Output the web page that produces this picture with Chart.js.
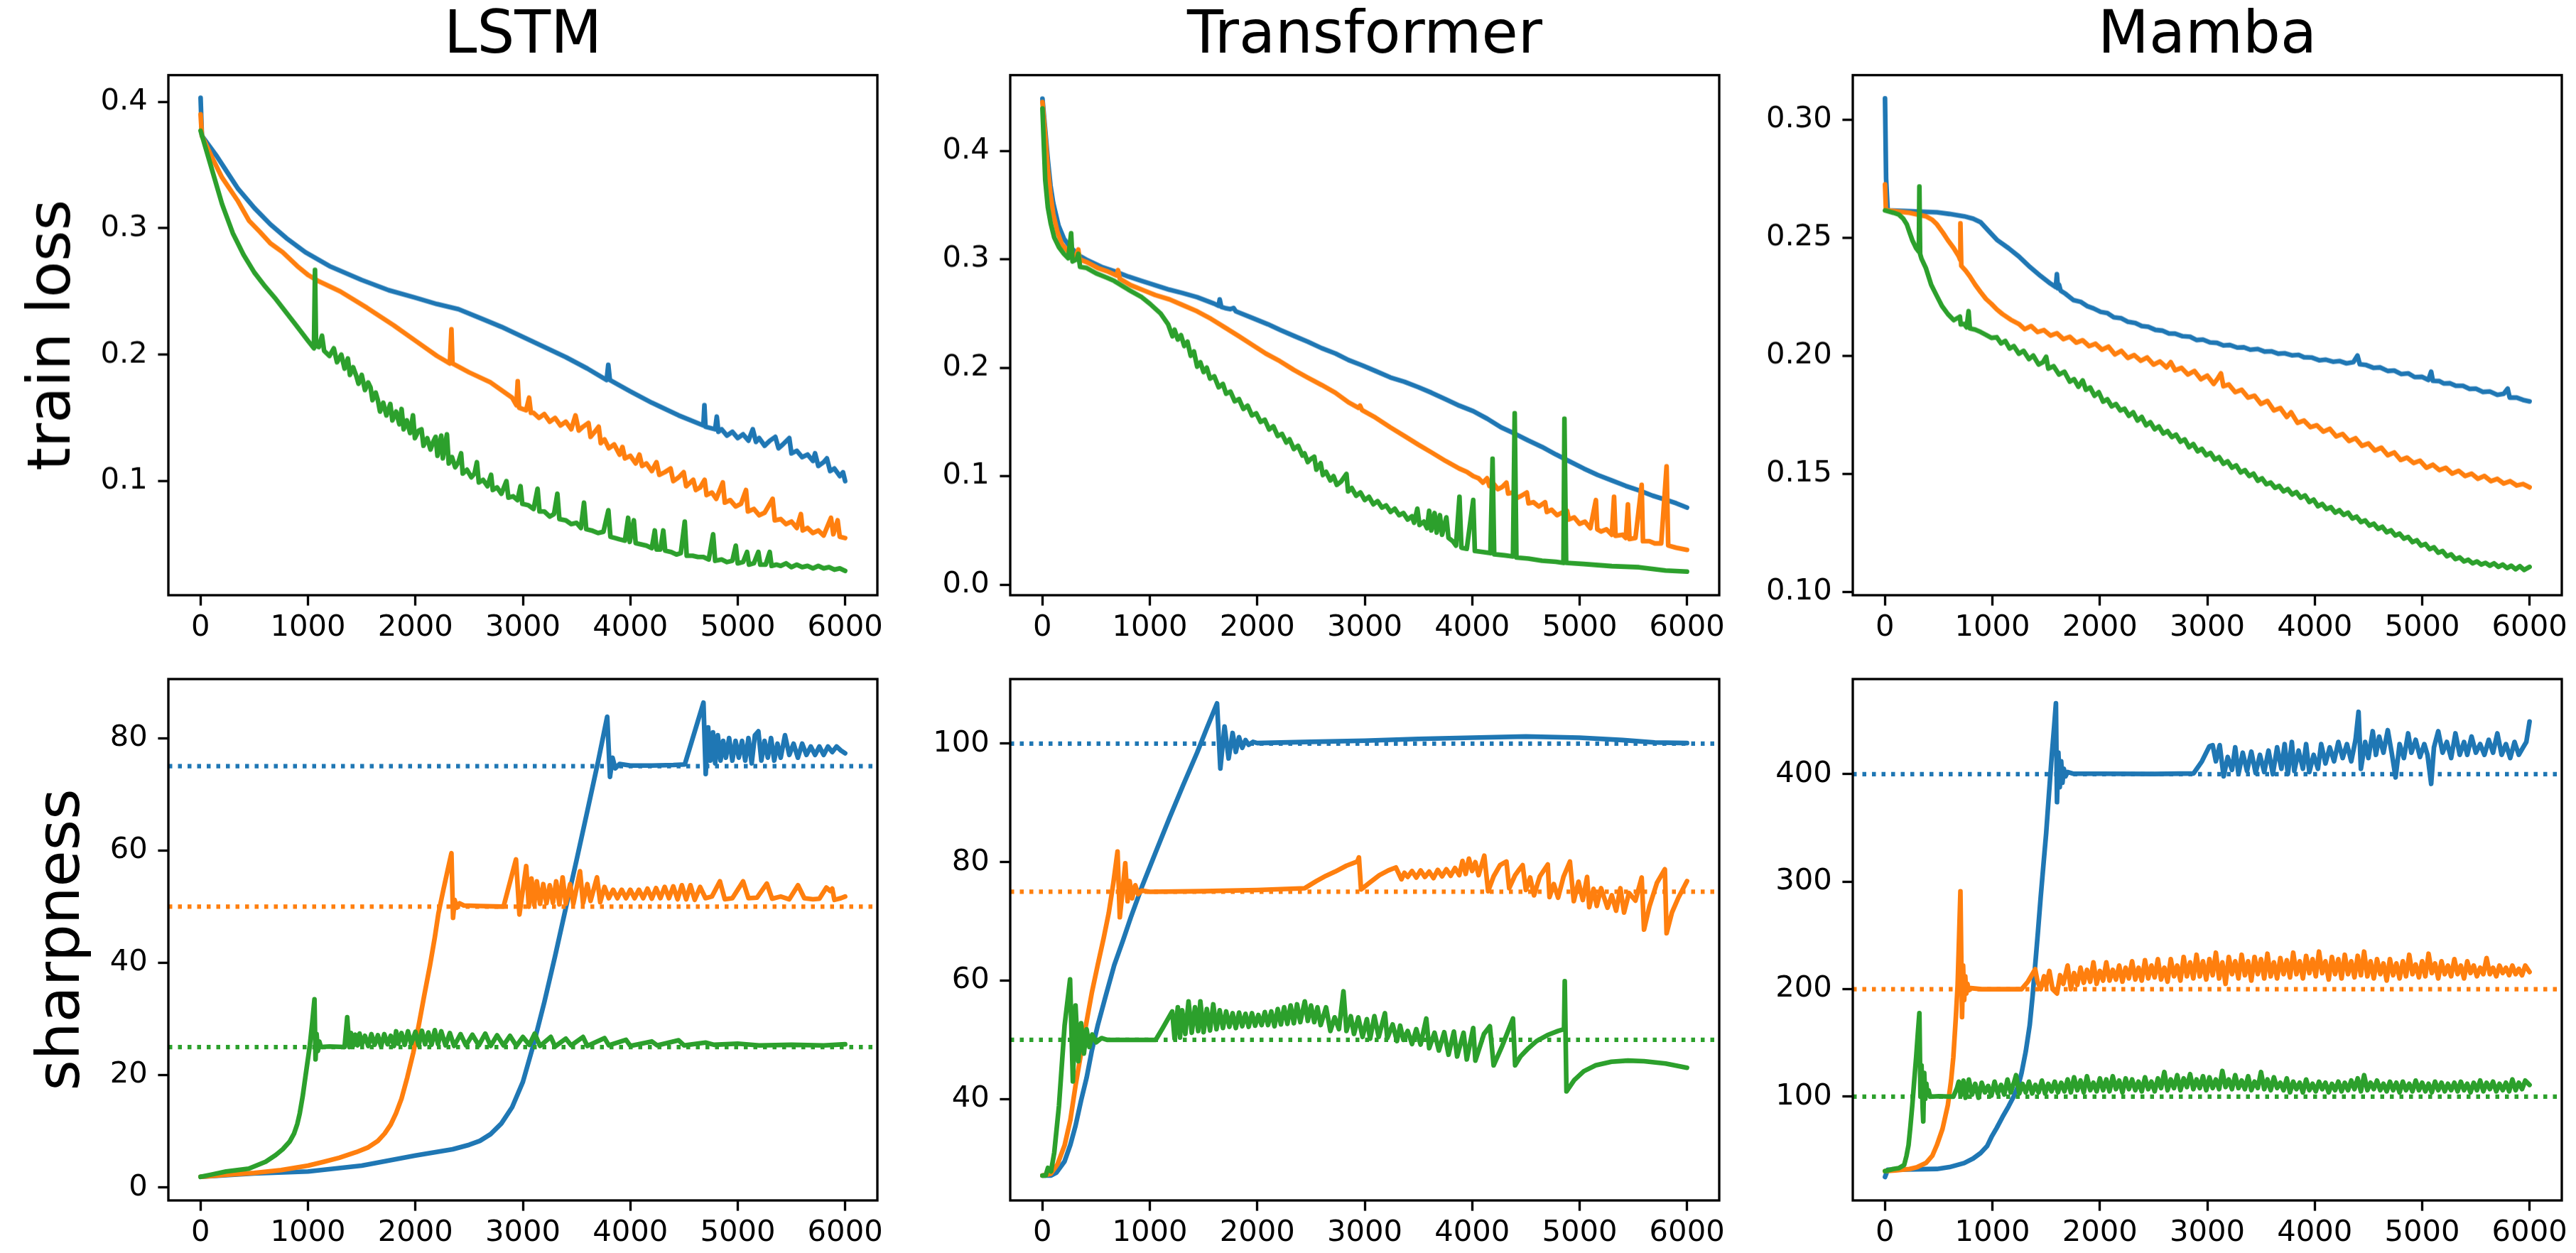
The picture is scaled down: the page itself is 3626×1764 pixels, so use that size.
<!DOCTYPE html>
<html>
<head>
<meta charset="utf-8">
<script src="https://cdn.jsdelivr.net/npm/chart.js@4.4.0/dist/chart.umd.min.js"></script>
<style>
  html, body { margin: 0; padding: 0; background: #fff; overflow: hidden; }
  #fig { position: relative; width: 3626px; height: 1764px; background: #fff; }
  #fig canvas { position: absolute; }
</style>
</head>
<body>
<div id="fig"></div>
<script>
// ---- data: [step, value] ----
const titles = ["LSTM", "Transformer", "Mamba"];
const rowLabels = ["train loss", "sharpness"];
const xTicks = [0, 1000, 2000, 3000, 4000, 5000, 6000];

const lstmLossBlue = [[0,.403],[12,.373],[150,.357],[250,.344],[350,.331],[500,.316],[650,.303],[800,.292],[975,.281],[1200,.270],[1500,.259],[1750,.251],[2000,.245],[2200,.240],[2400,.236],[2600,.229],[2800,.222],[3000,.214],[3200,.206],[3400,.198],[3600,.189],[3780,.180],[3795,.192],[3810,.180],[4000,.171],[4200,.162],[4450,.152],[4680,.144],[4690,.160],[4700,.143],[4790,.141],[4805,.151],[4820,.139],[4850,.141],[4900,.136],[4950,.139],[5000,.134],[5050,.137],[5100,.132],[5140,.141],[5170,.131],[5200,.134],[5250,.128],[5300,.132],[5350,.135],[5380,.126],[5420,.129],[5480,.134],[5500,.122],[5550,.124],[5600,.119],[5650,.121],[5700,.116],[5720,.122],[5750,.112],[5800,.115],[5830,.118],[5860,.108],[5900,.110],[5950,.104],[5980,.107],[6000,.100]];
const lstmLossOrange = [[0,.390],[12,.373],[100,.357],[200,.340],[343,.322],[450,.306],[553,.297],[650,.288],[764,.281],[900,.270],[1000,.263],[1100,.258],[1300,.250],[1550,.237],[1800,.223],[2000,.211],[2200,.199],[2320,.193],[2335,.220],[2345,.193],[2500,.186],[2700,.178],[2900,.166],[2940,.160],[2952,.179],[2965,.158],[3030,.156],[3058,.166],[3075,.154],[3100,.154],[3150,.150],[3200,.153],[3250,.147],[3300,.150],[3350,.144],[3400,.147],[3450,.141],[3490,.152],[3520,.140],[3560,.143],[3611,.146],[3630,.135],[3660,.138],[3706,.143],[3725,.130],[3760,.133],[3800,.126],[3850,.129],[3900,.121],[3927,.127],[3950,.118],[4000,.120],[4050,.114],[4085,.121],[4110,.112],[4150,.114],[4200,.108],[4244,.115],[4270,.105],[4320,.107],[4375,.110],[4400,.100],[4450,.103],[4497,.107],[4520,.096],[4586,.101],[4610,.093],[4650,.095],[4692,.101],[4710,.089],[4760,.091],[4800,.086],[4861,.099],[4880,.083],[4930,.085],[4980,.080],[5030,.082],[5077,.093],[5095,.076],[5150,.078],[5200,.073],[5250,.075],[5325,.086],[5345,.069],[5400,.070],[5450,.066],[5500,.068],[5550,.063],[5588,.074],[5605,.061],[5650,.063],[5700,.059],[5750,.061],[5800,.057],[5868,.071],[5890,.058],[5930,.069],[5950,.056],[6000,.055]];
const lstmLossGreen = [[0,.377],[100,.348],[200,.319],[300,.296],[400,.279],[500,.265],[600,.254],[700,.244],[800,.233],[900,.222],[1000,.211],[1055,.205],[1065,.267],[1075,.207],[1100,.206],[1130,.215],[1150,.203],[1200,.199],[1240,.205],[1270,.194],[1310,.200],[1340,.189],[1371,.197],[1390,.184],[1420,.190],[1450,.183],[1470,.177],[1500,.184],[1530,.172],[1560,.178],[1582,.174],[1600,.164],[1630,.170],[1650,.164],[1670,.155],[1700,.162],[1730,.152],[1766,.161],[1785,.148],[1820,.155],[1850,.145],[1871,.157],[1890,.141],[1920,.148],[1950,.138],[1977,.152],[1995,.134],[2030,.140],[2056,.141],[2075,.128],[2110,.134],[2140,.125],[2165,.131],[2188,.135],[2205,.120],[2240,.136],[2255,.118],[2293,.137],[2310,.114],[2340,.119],[2370,.111],[2400,.115],[2425,.122],[2440,.106],[2480,.109],[2520,.103],[2550,.106],[2572,.115],[2590,.099],[2630,.101],[2670,.096],[2704,.105],[2720,.093],[2760,.095],[2800,.090],[2847,.100],[2865,.087],[2910,.088],[2950,.085],[2978,.096],[2995,.082],[3050,.081],[3100,.078],[3137,.094],[3155,.076],[3200,.076],[3250,.072],[3290,.074],[3321,.090],[3340,.070],[3400,.069],[3450,.066],[3500,.067],[3540,.063],[3569,.083],[3590,.062],[3640,.061],[3700,.059],[3750,.060],[3796,.077],[3815,.056],[3860,.055],[3900,.054],[3950,.053],[3980,.071],[3995,.052],[4033,.069],[4050,.051],[4100,.050],[4150,.049],[4200,.047],[4228,.061],[4245,.046],[4280,.046],[4307,.061],[4325,.045],[4380,.044],[4430,.042],[4470,.043],[4507,.068],[4525,.041],[4580,.041],[4630,.040],[4680,.040],[4730,.038],[4771,.058],[4790,.037],[4850,.038],[4900,.036],[4950,.037],[4982,.049],[5000,.035],[5050,.036],[5087,.044],[5105,.034],[5150,.035],[5192,.044],[5210,.034],[5260,.034],[5298,.044],[5315,.033],[5360,.034],[5400,.033],[5450,.035],[5500,.032],[5550,.034],[5600,.032],[5650,.033],[5700,.031],[5750,.033],[5800,.031],[5850,.032],[5900,.030],[5950,.031],[6000,.029]];

const transLossBlue = [[0,.448],[25,.42],[50,.392],[75,.368],[100,.352],[150,.331],[200,.319],[260,.311],[350,.303],[420,.299],[550,.293],[670,.289],[800,.284],[925,.280],[1050,.276],[1180,.272],[1300,.269],[1440,.265],[1600,.259],[1640,.257],[1650,.263],[1665,.256],[1700,.255],[1750,.254],[1780,.255],[1800,.252],[1950,.246],[2100,.240],[2210,.235],[2350,.229],[2470,.224],[2600,.218],[2730,.213],[2850,.207],[2980,.202],[3100,.197],[3240,.191],[3370,.187],[3500,.182],[3620,.177],[3750,.171],[3880,.165],[4010,.160],[4140,.153],[4270,.145],[4400,.139],[4520,.133],[4650,.127],[4780,.120],[4900,.114],[5040,.107],[5170,.101],[5300,.096],[5430,.091],[5550,.087],[5680,.082],[5810,.078],[5900,.075],[6000,.071]];
const transLossOrange = [[0,.445],[25,.415],[50,.384],[75,.36],[100,.342],[140,.325],[180,.314],[250,.306],[308,.302],[334,.309],[345,.300],[420,.297],[514,.292],[600,.289],[690,.285],[704,.290],[720,.282],[823,.276],[950,.271],[1050,.267],[1183,.263],[1300,.258],[1440,.252],[1570,.245],[1700,.237],[1830,.229],[1954,.221],[2080,.213],[2211,.206],[2340,.198],[2468,.191],[2600,.184],[2725,.177],[2850,.168],[2940,.163],[2956,.165],[2975,.161],[3100,.154],[3239,.145],[3370,.137],[3500,.129],[3620,.122],[3753,.114],[3880,.107],[3950,.104],[4010,.100],[4060,.098],[4100,.094],[4139,.098],[4160,.091],[4200,.093],[4240,.088],[4280,.090],[4319,.094],[4335,.084],[4380,.085],[4420,.080],[4460,.082],[4509,.085],[4525,.075],[4570,.076],[4620,.072],[4650,.074],[4679,.076],[4695,.067],[4740,.069],[4790,.064],[4830,.066],[4884,.068],[4900,.060],[4950,.062],[5000,.056],[5050,.058],[5100,.052],[5152,.078],[5165,.051],[5200,.049],[5250,.051],[5300,.046],[5321,.081],[5335,.045],[5400,.046],[5430,.043],[5450,.074],[5465,.042],[5520,.043],[5578,.092],[5590,.040],[5650,.040],[5700,.038],[5760,.038],[5810,.109],[5825,.036],[5900,.034],[6000,.032]];
const transLossGreen = [[0,.439],[15,.40],[26,.373],[50,.348],[77,.333],[110,.320],[154,.311],[200,.305],[240,.301],[267,.324],[280,.298],[320,.300],[334,.305],[350,.293],[411,.292],[500,.287],[600,.283],[668,.280],[800,.272],[925,.265],[1000,.259],[1100,.250],[1170,.240],[1210,.229],[1230,.235],[1260,.226],[1290,.230],[1320,.220],[1350,.224],[1380,.211],[1410,.215],[1440,.201],[1470,.205],[1500,.196],[1530,.200],[1560,.190],[1600,.192],[1640,.182],[1680,.185],[1710,.176],[1750,.178],[1790,.169],[1830,.171],[1870,.162],[1910,.165],[1950,.156],[1990,.158],[2030,.150],[2070,.152],[2110,.143],[2150,.146],[2190,.137],[2230,.139],[2270,.131],[2300,.134],[2340,.125],[2380,.128],[2420,.119],[2440,.121],[2470,.113],[2500,.116],[2530,.118],[2550,.106],[2590,.112],[2610,.101],[2640,.104],[2680,.096],[2710,.100],[2740,.092],[2780,.095],[2830,.102],[2845,.086],[2880,.089],[2920,.082],[2960,.085],[3000,.078],[3040,.081],[3080,.074],[3120,.077],[3160,.071],[3200,.073],[3240,.067],[3280,.070],[3320,.064],[3360,.066],[3400,.060],[3440,.063],[3460,.057],[3490,.070],[3510,.055],[3550,.058],[3580,.052],[3600,.068],[3620,.050],[3650,.066],[3670,.048],[3700,.064],[3720,.046],[3760,.062],[3780,.043],[3820,.040],[3850,.036],[3882,.081],[3900,.034],[3950,.033],[4010,.078],[4025,.031],[4100,.030],[4170,.029],[4190,.116],[4205,.028],[4300,.027],[4380,.026],[4396,.158],[4412,.025],[4524,.024],[4650,.022],[4780,.021],[4850,.020],[4859,.153],[4875,.020],[5039,.019],[5300,.017],[5553,.016],[5800,.013],[6000,.012]];

const mambaLossBlue = [[0,.309],[10,.275],[25,.2615],[200,.2612],[483,.2607],[600,.2600],[737,.259],[820,.258],[890,.2565],[960,.253],[1042,.249],[1150,.2455],[1246,.242],[1350,.2375],[1449,.2337],[1540,.2305],[1590,.2290],[1600,.2345],[1610,.2285],[1620,.2300],[1635,.2275],[1680,.2262],[1754,.2235],[1820,.2228],[1880,.2210],[1940,.2200],[2008,.2185],[2070,.2180],[2130,.2162],[2200,.2158],[2262,.2143],[2330,.2138],[2390,.2125],[2450,.2122],[2517,.2109],[2580,.2106],[2640,.2094],[2700,.2093],[2771,.2082],[2840,.2080],[2900,.2066],[2960,.2068],[3025,.2056],[3090,.2054],[3150,.2043],[3210,.2045],[3279,.2034],[3340,.2035],[3400,.2025],[3470,.2028],[3533,.2017],[3600,.2018],[3660,.2008],[3720,.2010],[3787,.2001],[3850,.2003],[3900,.1993],[3970,.1992],[4042,.1980],[4100,.1983],[4170,.1974],[4230,.1977],[4296,.1967],[4360,.1972],[4398,.2000],[4420,.1963],[4480,.1960],[4550,.1948],[4610,.1950],[4680,.1935],[4740,.1937],[4804,.1922],[4870,.1925],[4930,.1909],[5000,.1910],[5058,.1897],[5084,.1932],[5100,.1893],[5160,.1892],[5200,.1882],[5260,.1883],[5313,.1872],[5380,.1872],[5440,.1859],[5500,.1860],[5567,.1846],[5630,.1848],[5700,.1834],[5760,.1838],[5796,.1860],[5815,.1822],[5880,.1822],[5940,.1812],[6000,.1806]];
const mambaLossOrange = [[0,.2725],[8,.262],[25,.2615],[229,.2605],[381,.259],[440,.2575],[483,.2556],[540,.252],[585,.2489],[640,.2455],[686,.2421],[700,.2405],[702,.256],[710,.238],[750,.236],[788,.2337],[840,.2300],[890,.2269],[940,.2240],[991,.2219],[1040,.2196],[1093,.2176],[1170,.2152],[1246,.2134],[1300,.2112],[1360,.2125],[1420,.2100],[1480,.2108],[1540,.2085],[1600,.2095],[1660,.2070],[1720,.2080],[1780,.2055],[1840,.2065],[1900,.2040],[1960,.2050],[2020,.2025],[2080,.2038],[2140,.2005],[2200,.2020],[2260,.1990],[2320,.2002],[2380,.1978],[2440,.1992],[2500,.1962],[2560,.1975],[2620,.1950],[2660,.1972],[2700,.1938],[2760,.1948],[2820,.1920],[2880,.1935],[2940,.1900],[3000,.1915],[3060,.1880],[3100,.1905],[3127,.1925],[3150,.1870],[3200,.1878],[3260,.1845],[3320,.1855],[3380,.1822],[3440,.1830],[3500,.1795],[3560,.1808],[3620,.1768],[3680,.1778],[3740,.1740],[3780,.1760],[3840,.1715],[3900,.1725],[3960,.1697],[4020,.1705],[4080,.1678],[4140,.1690],[4200,.1658],[4260,.1668],[4320,.1638],[4380,.1650],[4440,.1618],[4500,.1628],[4560,.1598],[4620,.1610],[4680,.1578],[4740,.1590],[4800,.1558],[4860,.1568],[4920,.1545],[4980,.1555],[5040,.1525],[5100,.1538],[5160,.1515],[5220,.1525],[5280,.1500],[5340,.1512],[5400,.1490],[5460,.1500],[5520,.1478],[5580,.1490],[5640,.1468],[5700,.1478],[5760,.1458],[5820,.1468],[5880,.1450],[5940,.1456],[6000,.1442]];
const mambaLossGreen = [[0,.2615],[80,.2605],[127,.2598],[170,.258],[203,.2556],[230,.252],[254,.2489],[290,.2455],[315,.244],[320,.2716],[327,.243],[340,.2410],[381,.2370],[430,.2300],[483,.2252],[530,.2210],[585,.2176],[640,.2150],[697,.2165],[705,.2132],[737,.2134],[760,.2120],[778,.2188],[790,.2115],[840,.2110],[890,.2100],[940,.2088],[991,.2075],[1040,.2078],[1080,.2052],[1120,.2062],[1160,.2030],[1200,.2040],[1246,.2008],[1290,.2020],[1340,.1985],[1380,.2000],[1430,.1962],[1470,.1972],[1500,.1995],[1520,.1945],[1570,.1955],[1620,.1920],[1670,.1932],[1720,.1890],[1760,.1900],[1800,.1868],[1840,.1895],[1870,.1855],[1910,.1865],[1950,.1830],[1990,.1845],[2030,.1805],[2070,.1815],[2110,.1785],[2150,.1795],[2190,.1768],[2230,.1775],[2270,.1745],[2310,.1760],[2350,.1725],[2390,.1740],[2430,.1705],[2470,.1718],[2510,.1688],[2550,.1700],[2590,.1670],[2630,.1680],[2670,.1655],[2710,.1665],[2750,.1635],[2790,.1645],[2830,.1612],[2870,.1625],[2910,.1595],[2950,.1605],[2990,.1578],[3030,.1588],[3070,.1560],[3110,.1570],[3150,.1542],[3190,.1552],[3230,.1525],[3270,.1535],[3310,.1505],[3350,.1515],[3390,.1490],[3430,.1500],[3470,.1470],[3510,.1480],[3550,.1455],[3590,.1462],[3630,.1440],[3670,.1448],[3710,.1425],[3750,.1435],[3790,.1412],[3830,.1422],[3870,.1398],[3910,.1408],[3950,.1380],[3990,.1390],[4030,.1362],[4070,.1372],[4110,.1350],[4150,.1358],[4190,.1335],[4230,.1345],[4270,.1325],[4310,.1335],[4350,.1310],[4390,.1318],[4430,.1295],[4470,.1302],[4510,.1280],[4550,.1288],[4590,.1266],[4630,.1275],[4670,.1252],[4710,.1260],[4750,.1238],[4790,.1246],[4830,.1225],[4870,.1232],[4910,.1210],[4950,.1218],[4990,.1195],[5030,.1202],[5070,.1180],[5110,.1188],[5150,.1165],[5190,.1172],[5230,.1150],[5270,.1158],[5310,.1138],[5350,.1145],[5390,.1128],[5430,.1135],[5470,.1120],[5510,.1128],[5550,.1115],[5590,.1122],[5630,.1110],[5670,.1120],[5710,.1105],[5750,.1115],[5790,.1100],[5830,.1110],[5870,.1095],[5910,.1108],[5950,.1092],[6000,.1105]];

const lstmSharpBlue = [[0,1.9],[500,2.5],[1000,2.85],[1500,3.9],[2000,5.7],[2346,6.8],[2500,7.6],[2600,8.3],[2700,9.5],[2800,11.4],[2900,14.3],[3000,18.8],[3100,25.5],[3200,33],[3300,41.2],[3400,49.8],[3500,58.3],[3600,67],[3700,75.8],[3785,83.8],[3811,73.1],[3835,76.5],[3860,74.6],[3900,75.4],[4000,75.1],[4200,75.1],[4400,75.2],[4507,75.3],[4681,86.3],[4702,73.6],[4725,81.9],[4745,76],[4770,81],[4790,75.5],[4815,80.5],[4840,76],[4865,79.5],[4890,76.5],[4920,80],[4950,76],[4980,79.5],[5010,76.5],[5040,79.5],[5070,76],[5100,80],[5130,75.5],[5160,80.5],[5192,81.2],[5220,76],[5250,79.5],[5280,76.5],[5310,80],[5340,76],[5370,79],[5400,76.5],[5440,80.5],[5480,77],[5520,79],[5560,76.5],[5600,79],[5640,77],[5680,78.5],[5720,77],[5760,78.5],[5800,77],[5840,78.5],[5880,77.5],[5920,78.5],[5960,77.8],[6000,77.3]];
const lstmSharpOrange = [[0,1.9],[250,2.3],[500,2.6],[750,3.1],[1000,3.9],[1150,4.6],[1292,5.3],[1450,6.3],[1555,7.1],[1650,8.3],[1713,9.6],[1770,11.2],[1819,13.2],[1870,15.8],[1924,19.6],[1980,24],[2030,28.8],[2080,34],[2135,39.5],[2180,44.5],[2214,48.8],[2260,53],[2300,56.5],[2335,59.5],[2350,48],[2365,51.2],[2385,49.8],[2410,50.6],[2450,50.2],[2600,50.1],[2820,50],[2936,58.4],[2968,48.6],[3000,53],[3031,57.2],[3055,50],[3080,55],[3105,50.3],[3130,54.5],[3160,50.5],[3190,54],[3220,50.6],[3250,53.8],[3280,50.7],[3310,54.5],[3340,50.4],[3370,55.2],[3400,50.5],[3440,54],[3470,50.5],[3532,56.3],[3560,50.6],[3600,54],[3630,51],[3690,55.2],[3720,50.8],[3760,53.5],[3800,51.5],[3840,53],[3880,51.5],[3920,53],[3960,51.5],[4000,53],[4040,51.5],[4080,53],[4120,51.5],[4160,53.2],[4200,51.4],[4240,53.3],[4280,51.5],[4320,53.5],[4360,51.5],[4400,53.6],[4440,51.3],[4480,53.8],[4520,51.3],[4560,53.8],[4600,51.2],[4650,53.5],[4700,51.5],[4760,51.8],[4834,54.5],[4880,51.3],[4950,51.5],[5050,54.5],[5100,51.5],[5180,51.6],[5271,54.1],[5320,51.4],[5400,51.8],[5480,51.3],[5561,53.8],[5620,51.5],[5700,51.3],[5760,51.4],[5825,53.4],[5860,52.8],[5880,53.2],[5900,51.2],[5960,51.5],[6000,51.8]];
const lstmSharpGreen = [[0,1.9],[100,2.3],[237,2.85],[448,3.35],[606,4.6],[700,5.8],[764,6.8],[830,8.2],[870,9.6],[900,11.3],[923,13.2],[950,16.2],[975,19.6],[1017,25.3],[1040,29.5],[1060,33.5],[1070,22.8],[1080,27.3],[1092,24.3],[1105,26],[1120,25],[1200,25.1],[1340,25],[1365,30.3],[1385,25],[1400,27.5],[1420,25.2],[1440,27.2],[1460,25.3],[1480,27.4],[1500,25.4],[1530,27],[1560,25.2],[1590,27.3],[1620,25.4],[1650,27.1],[1680,25.1],[1710,27.3],[1740,25.5],[1770,27],[1800,25.2],[1820,27.8],[1840,25.6],[1870,27.5],[1900,25.4],[1930,27.8],[1960,25.6],[2000,27.7],[2030,25.3],[2060,27.9],[2090,25.5],[2120,27.6],[2150,25.4],[2180,28],[2210,25.5],[2240,27.8],[2280,25.3],[2320,27.5],[2360,25.2],[2420,27.3],[2470,25.3],[2530,27.2],[2590,25.3],[2650,27.4],[2700,25.2],[2760,27.1],[2820,25.3],[2880,27],[2940,25.2],[3000,26.8],[3060,25.4],[3110,27.4],[3160,25.2],[3260,26.8],[3300,25.1],[3400,26.5],[3450,25.3],[3560,26.8],[3600,25.2],[3760,26.6],[3800,25.3],[3960,26.3],[4000,25.2],[4200,26],[4250,25.3],[4450,26.2],[4500,25.3],[4700,25.8],[4780,25.4],[5000,25.6],[5200,25.3],[5500,25.4],[5800,25.3],[6000,25.5]];

const transSharpBlue = [[0,27.1],[80,27.1],[130,27.6],[206,29.5],[260,32.3],[308,35.5],[360,39.8],[411,43.6],[460,48.2],[514,52.4],[590,57.5],[668,62.6],[750,66.8],[823,70.7],[925,75.8],[1050,81.5],[1183,87.5],[1310,93],[1440,98.5],[1530,102.6],[1625,106.8],[1656,95.8],[1695,102.9],[1733,97.5],[1770,101.8],[1800,98.6],[1830,101.1],[1860,99.3],[1890,100.6],[1920,99.8],[1960,100.3],[2000,100.1],[2500,100.3],[3000,100.5],[3500,100.8],[4000,101],[4500,101.2],[5000,101],[5400,100.6],[5700,100.2],[6000,100.1]];
const transSharpOrange = [[0,27.1],[77,27.4],[140,29],[206,32.2],[260,36.5],[308,42.3],[360,47.8],[411,53.1],[460,58],[514,62.6],[570,67.2],[617,71.4],[660,76.5],[699,81.8],[720,70.7],[745,75],[771,79.8],[792,73.4],[812,76.8],[835,73.9],[864,76.1],[890,74.6],[925,75.2],[1000,75],[1500,75.1],[2000,75.3],[2442,75.6],[2550,76.8],[2640,77.7],[2725,78.4],[2830,79.4],[2931,80.1],[2946,80.8],[2966,75.4],[3050,76.6],[3136,77.8],[3220,78.6],[3290,79.1],[3342,77.1],[3370,78.2],[3400,77.5],[3440,78.5],[3480,77.4],[3520,78.6],[3560,77.5],[3600,78.4],[3640,77.3],[3680,78.7],[3720,77.6],[3760,78.8],[3800,77.7],[3840,79],[3880,77.8],[3910,80.2],[3940,78],[3970,80.6],[4000,78.5],[4030,80],[4060,77.8],[4113,81.1],[4149,75.1],[4200,77.6],[4260,79.5],[4319,80.1],[4345,75.6],[4400,77.8],[4440,78.8],[4470,79.5],[4500,75.3],[4540,77.4],[4576,74.4],[4630,77.6],[4704,79.6],[4720,74.1],[4760,76.3],[4800,74],[4850,77.5],[4910,80.1],[4946,73.4],[4990,76.7],[5030,73.6],[5070,77.5],[5090,72.4],[5130,75.5],[5160,72.6],[5200,75.6],[5260,72.3],[5300,74.4],[5340,71.8],[5380,75.6],[5414,71.5],[5460,74.8],[5520,73.5],[5578,77.4],[5600,68.6],[5650,72.5],[5720,76.5],[5794,78.8],[5810,68],[5860,71.5],[5920,74],[6000,76.8]];
const transSharpGreen = [[0,27.1],[30,27.1],[51,28.4],[80,27.8],[110,31],[154,38.9],[206,52.4],[257,60.2],[283,43],[308,55.8],[334,46.4],[360,52.8],[386,47.7],[411,51.8],[437,48.8],[463,50.9],[500,49.6],[550,50.3],[600,50],[1054,50],[1120,52],[1208,54.8],[1230,50.2],[1260,55.5],[1280,50.4],[1300,55],[1330,51],[1360,56.5],[1390,51.2],[1420,55.5],[1450,51.5],[1470,56.5],[1500,51.3],[1530,55.2],[1560,51.6],[1590,56],[1620,51.8],[1650,55],[1680,52],[1710,54.8],[1740,52.2],[1770,54.5],[1800,52],[1830,54.6],[1860,52.3],[1890,54.4],[1920,52.2],[1950,54.5],[1980,52.4],[2010,54.2],[2040,52.5],[2070,54.7],[2100,52.5],[2130,54.8],[2160,52.3],[2190,55.2],[2220,52.6],[2250,55.5],[2280,52.7],[2310,55.8],[2340,52.8],[2370,56],[2400,53],[2442,56.5],[2470,53.2],[2500,55.8],[2530,53],[2560,55.5],[2590,52.5],[2640,55.5],[2680,51.5],[2720,53.8],[2760,51.8],[2802,58.2],[2830,51.5],[2870,54],[2900,51],[2940,53.8],[2980,50.5],[3020,53.5],[3050,50.2],[3090,54],[3130,50.5],[3188,54.5],[3210,50.3],[3260,52.6],[3300,49.8],[3330,52.4],[3360,50],[3400,51.5],[3440,49.3],[3480,51.8],[3520,49.2],[3573,53.6],[3600,48.6],[3650,51.2],[3690,48.2],[3740,51.3],[3780,47.5],[3830,51.4],[3860,47.2],[3920,51.2],[3950,46.7],[4010,52],[4030,46.5],[4110,51],[4165,52.3],[4200,45.7],[4280,49],[4380,53.6],[4400,45.7],[4450,47.2],[4524,48.6],[4600,49.8],[4700,50.8],[4800,51.5],[4855,51.8],[4862,59.9],[4878,41.3],[4950,43.2],[5039,44.7],[5150,45.7],[5296,46.3],[5450,46.5],[5600,46.4],[5800,46],[6000,45.3]];

const mambaSharpBlue = [[0,25.3],[25,32],[200,32.3],[483,32.8],[600,34.5],[737,38.3],[820,42.5],[890,47.6],[950,54],[991,62.5],[1040,71],[1093,81],[1150,91],[1195,99.6],[1240,110],[1271,122],[1310,142],[1347,166.5],[1375,195],[1398,222.3],[1425,255],[1449,285.5],[1475,316],[1500,345],[1525,380],[1551,415.6],[1575,445],[1591,466],[1601,374],[1614,420],[1627,388],[1640,412],[1652,392],[1665,405],[1680,398],[1700,402],[1750,400.5],[2000,400.5],[2500,400.2],[2872,400.7],[2950,412],[3020,426],[3050,427],[3080,412],[3116,427],[3152,398],[3190,416],[3230,404],[3260,425],[3290,400],[3330,420],[3370,403],[3410,421],[3450,401],[3490,418],[3530,402],[3570,422],[3610,400],[3650,425],[3690,405],[3720,428],[3750,400],[3787,430],[3810,403],[3850,422],[3890,405],[3920,428],[3950,402],[3990,418],[4030,405],[4060,428],[4100,410],[4140,425],[4180,412],[4220,430],[4260,415],[4300,428],[4340,412],[4380,432],[4408,458],[4430,405],[4470,430],[4500,415],[4540,440],[4570,418],[4600,435],[4640,420],[4680,441],[4720,418],[4753,397],[4790,428],[4830,415],[4870,438],[4900,420],[4940,432],[4980,416],[5020,428],[5050,418],[5084,391],[5110,425],[5150,440],[5190,420],[5230,430],[5270,415],[5310,438],[5350,418],[5390,430],[5420,418],[5460,435],[5500,420],[5540,428],[5580,418],[5620,432],[5660,420],[5700,438],[5740,418],[5780,428],[5820,415],[5860,430],[5900,418],[5940,425],[5970,430],[6000,449]];
const mambaSharpOrange = [[0,30.8],[100,31.5],[229,32.7],[300,34.5],[381,38.3],[440,45],[483,55],[535,70],[585,92.2],[615,115],[636,136.8],[660,175],[676,203.7],[690,250],[702,291],[717,174],[727,222],[737,190],[747,212],[757,196],[767,205],[780,199],[800,201],[900,200],[1100,200],[1271,200],[1330,207],[1398,218.6],[1420,207],[1450,200],[1480,212],[1500,203],[1530,217],[1560,200],[1601,196],[1630,213],[1660,205],[1700,222],[1730,200],[1760,215],[1790,204],[1820,220],[1850,206],[1880,218],[1910,207],[1940,225],[1970,205],[2000,217],[2030,208],[2060,225],[2090,208],[2120,218],[2150,209],[2180,222],[2210,207],[2240,220],[2270,210],[2300,226],[2330,209],[2360,220],[2390,208],[2420,227],[2450,210],[2480,222],[2510,211],[2540,228],[2570,209],[2600,220],[2630,207],[2660,228],[2690,212],[2720,222],[2750,208],[2780,230],[2810,212],[2840,225],[2870,210],[2900,232],[2930,212],[2960,226],[2990,209],[3020,228],[3050,213],[3080,234],[3110,210],[3140,225],[3170,205],[3200,230],[3230,214],[3260,226],[3290,210],[3320,232],[3350,213],[3380,226],[3410,208],[3440,230],[3470,214],[3500,228],[3530,210],[3560,233],[3590,212],[3620,225],[3650,210],[3680,229],[3710,214],[3740,227],[3770,211],[3800,234],[3830,214],[3860,226],[3890,210],[3920,231],[3950,215],[3980,228],[4010,212],[4040,235],[4070,215],[4100,226],[4130,209],[4160,230],[4190,214],[4220,228],[4250,210],[4280,232],[4310,214],[4340,226],[4370,211],[4400,231],[4430,213],[4460,235],[4490,212],[4520,226],[4550,210],[4580,228],[4610,214],[4640,224],[4670,208],[4700,228],[4730,213],[4760,224],[4790,210],[4820,226],[4850,212],[4880,232],[4910,214],[4940,223],[4970,211],[5000,226],[5030,212],[5060,233],[5090,215],[5120,224],[5150,210],[5180,226],[5210,214],[5240,222],[5270,212],[5300,228],[5330,214],[5360,222],[5390,210],[5420,226],[5450,215],[5480,222],[5510,212],[5540,220],[5570,214],[5600,229],[5630,214],[5660,220],[5690,212],[5720,222],[5750,215],[5780,220],[5810,213],[5840,222],[5870,214],[5900,219],[5930,213],[5960,222],[6000,216]];
const mambaSharpGreen = [[0,30.8],[76,32.7],[127,33.5],[178,36.4],[200,45],[219,55],[236,72],[254,92],[272,115],[290,136.8],[305,158],[320,177.7],[330,100],[340,129],[350,90],[356,77],[365,122],[375,98],[385,112],[395,102],[405,106],[420,100],[500,100.5],[636,100],[670,108],[686,114],[705,101],[730,115],[750,99],[780,116],[810,102],[840,112],[870,99],[900,113],[930,104],[960,110],[990,101],[1020,114],[1050,103],[1080,111],[1110,102],[1140,116],[1170,104],[1200,113],[1220,120],[1250,103],[1280,112],[1310,104],[1340,114],[1370,103],[1400,111],[1430,104],[1460,115],[1490,103],[1520,112],[1550,105],[1580,114],[1610,104],[1640,113],[1670,105],[1700,116],[1730,104],[1760,118],[1790,106],[1820,115],[1850,104],[1880,119],[1910,106],[1940,113],[1970,105],[2000,117],[2030,106],[2060,116],[2090,105],[2120,119],[2150,107],[2180,115],[2210,104],[2240,117],[2270,107],[2300,116],[2330,106],[2360,114],[2390,105],[2420,118],[2450,107],[2480,114],[2510,105],[2540,117],[2570,108],[2600,123],[2630,106],[2660,116],[2690,108],[2720,120],[2750,106],[2780,117],[2810,109],[2840,121],[2870,107],[2900,116],[2930,108],[2960,119],[2990,106],[3020,118],[3050,108],[3080,116],[3110,107],[3140,124],[3170,109],[3200,116],[3230,107],[3260,120],[3290,108],[3320,115],[3350,107],[3380,119],[3410,106],[3440,114],[3470,108],[3500,123],[3530,107],[3560,116],[3590,106],[3620,118],[3650,108],[3680,113],[3710,106],[3740,117],[3770,104],[3800,114],[3830,107],[3860,113],[3890,104],[3920,116],[3950,106],[3980,112],[4010,105],[4040,114],[4070,107],[4100,113],[4130,104],[4160,112],[4190,106],[4220,114],[4250,105],[4280,113],[4310,106],[4340,115],[4370,107],[4400,117],[4430,105],[4460,120],[4490,106],[4520,113],[4550,107],[4580,115],[4610,106],[4640,112],[4670,105],[4700,114],[4730,106],[4760,113],[4790,104],[4820,114],[4850,106],[4880,112],[4910,105],[4940,115],[4970,106],[5000,113],[5030,105],[5060,112],[5090,104],[5120,114],[5150,106],[5180,113],[5210,105],[5240,112],[5270,106],[5300,113],[5330,105],[5360,114],[5390,106],[5420,112],[5450,104],[5480,113],[5510,106],[5540,115],[5570,105],[5600,113],[5630,107],[5660,114],[5690,105],[5720,112],[5750,106],[5780,113],[5810,105],[5840,116],[5870,106],[5900,113],[5930,107],[5960,115],[6000,111]];

// dotted reference levels (blue, orange, green)
const lstmLevels = [75, 50, 25];
const transLevels = [100, 75, 50];
const mambaLevels = [400, 200, 100];

// ---- layout (figure pixels) ----
const BLUE = "#1f77b4", ORANGE = "#ff7f0e", GREEN = "#2ca02c";
const COLORS = [BLUE, ORANGE, GREEN];
const FONT = "'DejaVu Sans', sans-serif";
const X_MIN = -300, X_MAX = 6300;
const COL_LEFT = [237, 1422, 2608];
const PLOT_W = 998;
const ROW_TOP = [106, 956];
const PLOT_H = [732, 734];
const TICK_FONT = 41.7, BIG_FONT = 83.3;
const TICK_LEN = 14.6, TICK_W = 3.33, LINE_W = 6.6;
const LABEL_PAD = [34.9, 48.2]; // y-label offset per row

const panels = [
  [
    { series: [lstmLossBlue, lstmLossOrange, lstmLossGreen], yMin: 0.0098, yMax: 0.421, step: 0.1, dec: 1 },
    { series: [transLossBlue, transLossOrange, transLossGreen], yMin: -0.0098, yMax: 0.4698, step: 0.1, dec: 1 },
    { series: [mambaLossBlue, mambaLossOrange, mambaLossGreen], yMin: 0.0985, yMax: 0.3188, step: 0.05, dec: 2 }
  ],
  [
    { series: [lstmSharpBlue, lstmSharpOrange, lstmSharpGreen], levels: lstmLevels, yMin: -2.3, yMax: 90.5, step: 20, dec: 0 },
    { series: [transSharpBlue, transSharpOrange, transSharpGreen], levels: transLevels, yMin: 22.9, yMax: 110.9, step: 20, dec: 0 },
    { series: [mambaSharpBlue, mambaSharpOrange, mambaSharpGreen], levels: mambaLevels, yMin: 3.5, yMax: 488.5, step: 100, dec: 0 }
  ]
];

const framePlugin = {
  id: "frame",
  afterDatasetsDraw(chart) {
    const { ctx, chartArea: a } = chart;
    ctx.save();
    ctx.strokeStyle = "#000";
    ctx.lineWidth = TICK_W;
    ctx.strokeRect(a.left, a.top, a.right - a.left, a.bottom - a.top);
    ctx.restore();
  }
};

const toPoints = arr => arr.map(([x, y]) => ({ x, y }));
const fig = document.getElementById("fig");

function makePanel(row, col, p) {
  const yAxisW = col === 0 ? 237 : 160;
  const padRight = 90;
  const titleH = row === 0 ? BIG_FONT + 11.35 : 0;
  const padTop = row === 0 ? 0 : 60;
  const xAxisH = 72;
  const w = yAxisW + PLOT_W + padRight;
  const h = padTop + titleH + PLOT_H[row] + xAxisH;

  const canvas = document.createElement("canvas");
  canvas.width = w;
  canvas.height = h;
  canvas.style.width = w + "px";
  canvas.style.height = h + "px";
  canvas.style.left = (COL_LEFT[col] - yAxisW) + "px";
  canvas.style.top = (ROW_TOP[row] - padTop - titleH) + "px";
  fig.appendChild(canvas);

  const datasets = [];
  p.series.forEach((s, i) => {
    datasets.push({
      data: toPoints(s),
      borderColor: COLORS[i],
      borderWidth: LINE_W,
      borderJoinStyle: "round",
      borderCapStyle: "round",
      pointRadius: 0,
      tension: 0,
      fill: false,
      order: 6 - 2 * i
    });
    if (p.levels) {
      datasets.push({
        data: [{ x: X_MIN, y: p.levels[i] }, { x: X_MAX, y: p.levels[i] }],
        borderColor: COLORS[i],
        borderWidth: 6.25,
        borderDash: [5.5, 8],
        borderCapStyle: "butt",
        pointRadius: 0,
        fill: false,
        order: 5 - 2 * i
      });
    }
  });

  const grid = { drawOnChartArea: false, drawTicks: true, tickLength: TICK_LEN, tickWidth: TICK_W, tickColor: "#000" };
  const tickFont = { family: FONT, size: TICK_FONT, lineHeight: 1 };

  new Chart(canvas, {
    type: "line",
    data: { datasets },
    options: {
      responsive: false,
      animation: false,
      devicePixelRatio: 1,
      layout: { padding: { left: 0, right: padRight, top: padTop, bottom: 0 } },
      scales: {
        x: {
          type: "linear",
          min: X_MIN,
          max: X_MAX,
          grid,
          border: { display: false },
          afterBuildTicks: s => { s.ticks = xTicks.map(v => ({ value: v })); },
          ticks: {
            color: "#000", font: tickFont, padding: 11, maxRotation: 0, autoSkip: false,
            callback: v => String(v)
          },
          afterFit: s => { s.height = xAxisH; }
        },
        y: {
          type: "linear",
          min: p.yMin,
          max: p.yMax,
          grid,
          border: { display: false },
          ticks: {
            color: "#000", font: tickFont, padding: TICK_LEN, stepSize: p.step, includeBounds: false,
            callback: v => Number(v).toFixed(p.dec)
          },
          title: {
            display: col === 0,
            text: rowLabels[row],
            color: "#000",
            font: { family: FONT, size: BIG_FONT, lineHeight: 1 },
            padding: { top: LABEL_PAD[row], bottom: 0 }
          },
          afterFit: s => { s.width = yAxisW; }
        }
      },
      plugins: {
        legend: { display: false },
        tooltip: { enabled: false },
        title: {
          display: row === 0,
          text: titles[col],
          color: "#000",
          fullSize: false,
          font: { family: FONT, size: BIG_FONT, weight: "normal", lineHeight: 1 },
          padding: { top: 0, bottom: 11.35 }
        }
      }
    },
    plugins: [framePlugin]
  });
}

panels.forEach((rowPanels, r) => rowPanels.forEach((p, c) => makePanel(r, c, p)));
</script>
</body>
</html>
